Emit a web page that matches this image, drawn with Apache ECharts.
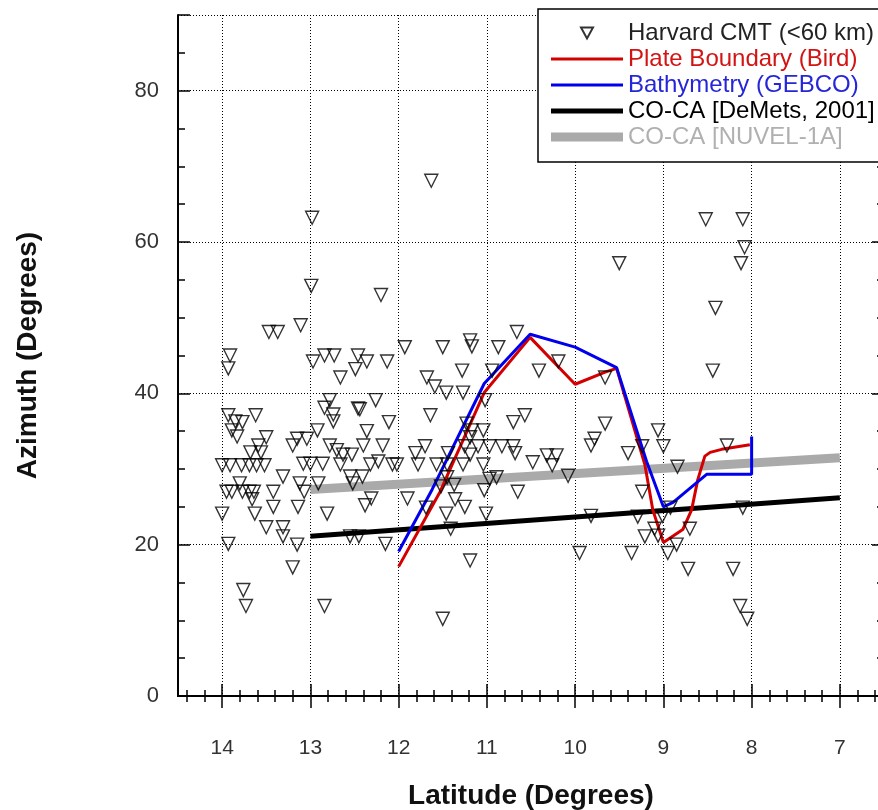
<!DOCTYPE html>
<html>
<head>
<meta charset="utf-8">
<title>Azimuth vs Latitude</title>
<script src="https://cdn.jsdelivr.net/npm/echarts@6/dist/echarts.min.js"></script>
<style>
  html, body { margin: 0; padding: 0; background: #fff; }
  #chart { width: 878px; height: 810px; }
</style>
</head>
<body>
<div id="chart"></div>
<script>
// Harvard CMT events: [latitude, azimuth]
var cmtPoints = [
  [12.98,63.2],[11.63,68.1],[8.52,63.0],[8.10,63.0],[8.08,59.3],[8.12,57.2],[9.50,57.2],[8.41,51.3],
  [8.44,43.0],[10.41,43.0],[10.19,44.2],[9.66,42.1],[10.66,48.1],[12.99,54.2],[12.20,53.0],[13.11,49.0],
  [13.47,48.1],[13.37,48.1],[13.91,45.0],[13.93,43.3],[12.97,44.2],[12.84,45.0],[12.73,45.0],[12.46,45.0],
  [12.36,44.2],[12.49,43.2],[12.13,44.2],[12.66,42.1],[11.93,46.1],[11.50,46.1],[11.19,47.0],[11.17,46.2],
  [10.87,46.1],[11.28,43.0],[10.94,43.0],[11.68,42.1],[11.59,40.9],[11.46,40.1],[11.27,40.1],[11.02,39.1],
  [12.78,39.1],[12.84,38.1],[12.74,37.2],[12.74,36.3],[12.44,37.9],[12.26,39.1],[12.11,36.2],[11.64,37.1],
  [10.57,37.1],[10.70,36.2],[13.93,37.1],[13.85,36.3],[13.77,36.2],[13.62,37.1],[13.89,35.1],[13.83,34.3],
  [12.92,35.1],[12.36,35.0],[13.50,34.2],[13.59,33.1],[13.68,32.2],[13.56,32.2],[13.15,34.0],[13.04,34.0],
  [13.20,33.1],[12.78,33.1],[12.70,32.5],[12.63,31.9],[12.53,31.9],[12.40,33.1],[12.18,33.1],[11.81,32.1],
  [11.70,33.0],[11.44,32.1],[11.25,33.0],[11.10,33.0],[10.97,33.0],[10.83,33.0],[10.70,33.0],[11.17,35.1],
  [11.23,36.0],[11.04,35.1],
  [9.66,36.0],[9.78,34.0],[9.82,33.1],[9.06,35.1],[9.00,33.0],[9.24,33.0],[9.40,32.1],[8.28,33.1],
  [10.48,30.9],[10.32,31.8],[10.21,31.8],[10.26,30.5],[8.84,30.3],[10.08,29.1],[9.24,27.0],[9.82,23.8],
  [9.29,23.7],[9.01,23.8],[8.92,24.9],[8.10,24.9],[9.10,22.1],[9.21,21.1],[9.06,21.2],[8.70,22.1],
  [8.85,20.0],[8.95,18.9],[9.95,18.9],[9.36,18.9],[8.72,16.8],[8.21,16.8],[8.13,11.9],[8.05,10.2],
  [10.68,32.1],[10.65,27.0],
  [14.00,30.5],[13.91,30.5],[13.78,30.5],[13.69,30.5],[13.61,30.5],[13.52,30.5],[13.31,29.0],[13.08,30.7],
  [13.00,30.7],[12.86,30.7],[12.66,30.6],[12.32,30.6],[12.23,31.0],[12.07,30.6],[12.02,30.6],[11.78,30.6],
  [11.57,30.6],[11.45,30.6],[11.27,30.6],[11.04,30.6],[10.97,28.7],[13.80,28.1],[13.95,27.0],[13.89,27.0],
  [13.77,27.0],[13.69,27.0],[13.64,27.0],[13.66,26.0],[13.42,27.0],[13.42,25.0],[13.12,28.1],[13.07,27.0],
  [12.91,28.1],[12.52,28.1],[12.41,29.0],[12.31,26.1],[12.38,25.2],[13.14,25.0],[14.00,24.1],[13.63,24.1],
  [12.81,24.1],[13.50,22.3],[13.31,22.3],[13.31,21.1],[13.15,20.0],[13.93,20.1],[12.55,21.1],[12.45,21.1],
  [12.15,20.1],[13.20,17.0],[13.76,14.0],[13.73,11.9],[12.84,11.9],[11.50,10.2],[11.19,17.9],[11.90,26.1],
  [11.69,24.9],[11.46,24.1],[11.41,22.1],[11.36,26.0],[11.25,25.0],[11.03,27.2],[11.01,24.1],[11.45,28.9],
  [11.37,27.9],[11.52,27.7],[10.89,28.9],[12.46,38.0],[11.19,34.2],[11.19,31.9],[12.55,29.0]
];

// Plate boundary (Bird)
var birdLat = [12.0, 11.53, 11.03, 10.51, 10.0, 9.66, 9.53, 9.21, 9.12, 9.0, 8.78, 8.68, 8.61, 8.53, 8.47, 8.34, 8.02];
var birdAz  = [17.1, 27.0, 40.1, 47.4, 41.2, 42.8, 43.3, 30.6, 24.6, 20.3, 22.0, 24.6, 28.6, 31.7, 32.2, 32.6, 33.2];

// Bathymetry (GEBCO)
var gebcoLat = [12.0, 11.62, 11.03, 10.51, 10.0, 9.53, 9.19, 9.0, 8.89, 8.51, 8.0, 8.0];
var gebcoAz  = [19.1, 27.3, 41.3, 47.8, 46.1, 43.4, 31.0, 25.0, 25.6, 29.3, 29.3, 34.3];

// CO-CA predictions
var demetsLat = [13.0, 7.0];
var demetsAz  = [21.1, 26.2];
var nuvelLat  = [13.0, 7.0];
var nuvelAz   = [27.3, 31.5];

// tick values
var latTicks = [7, 8, 9, 10, 11, 12, 13, 14];
var latMinorTicks = [];
for (var t = 66; t <= 144; t += 2) latMinorTicks.push(t / 10);
var azTicks = [0, 20, 40, 60, 80];

function zip(a, b) {
  return a.map(function (v, i) { return [v, b[i]]; });
}

var FONT = 'Liberation Sans, Arial, sans-serif';
var frame = { show: true, lineStyle: { color: '#000', width: 2 } };
var dotted = { show: true, lineStyle: { color: '#000', width: 1, type: [1, 2] } };

function latAxis(pos, major) {
  return {
    type: 'value', position: pos, min: 6.5, max: 14.5, inverse: true,
    splitNumber: 8, minInterval: 1, maxInterval: 1,
    axisLine: major ? frame : { show: false },
    axisTick: { show: true, inside: true, length: major ? 12 : 6,
      customValues: major ? latTicks : latMinorTicks,
      lineStyle: { color: '#000', width: 1.5 } },
    axisLabel: { show: false },
    splitLine: { show: false }
  };
}
function azAxis(pos, major) {
  return {
    type: 'value', position: pos, min: 0, max: 90, interval: major ? 20 : 5,
    axisLine: major ? frame : { show: false },
    axisTick: { show: true, inside: true, length: major ? 12 : 7,
      lineStyle: { color: '#000', width: 1.5 } },
    axisLabel: { show: false },
    splitLine: { show: false }
  };
}

var xMain = latAxis('bottom', true);
xMain.axisLabel = { show: true, customValues: latTicks, fontSize: 21, color: '#333',
  fontFamily: FONT, margin: 42 };
xMain.splitLine = dotted;
xMain.name = 'Latitude (Degrees)';
xMain.nameLocation = 'middle';
xMain.nameGap = 86;
xMain.nameTextStyle = { fontSize: 28, fontWeight: 'bold', color: '#111', fontFamily: FONT };

var yMain = azAxis('left', true);
yMain.axisLabel = { show: true, customValues: azTicks, fontSize: 22, color: '#333',
  fontFamily: FONT, margin: 19 };
yMain.splitLine = dotted;
yMain.name = 'Azimuth (Degrees)';
yMain.nameLocation = 'middle';
yMain.nameGap = 136;
yMain.nameTextStyle = { fontSize: 28, fontWeight: 'bold', color: '#111', fontFamily: FONT };

var myChart = echarts.init(document.getElementById('chart'));

var option = {
  animation: false,
  backgroundColor: '#fff',
  grid: { left: 178, top: 15, width: 706, height: 681, outerBoundsMode: 'none', containLabel: false },
  xAxis: [xMain, latAxis('bottom', false), latAxis('top', true), latAxis('top', false)],
  yAxis: [yMain, azAxis('left', false), azAxis('right', true), azAxis('right', false)],
  legend: {
    left: 538, top: 9, orient: 'vertical',
    itemWidth: 72, itemHeight: 11, itemGap: 2,
    padding: [12, 30, 13, 13],
    borderColor: '#000', borderWidth: 1.5, backgroundColor: '#fff',
    textStyle: { fontSize: 24, fontFamily: FONT, color: '#222' },
    selectedMode: false,
    data: [
      { name: 'Harvard CMT (<60 km)', icon: 'path://M0,0L12,0L6,11Z', textStyle: { color: '#222' } },
      { name: 'Plate Boundary (Bird)', icon: 'path://M0,0L72,0L72,3L0,3Z', textStyle: { color: '#d21414' } },
      { name: 'Bathymetry (GEBCO)', icon: 'path://M0,0L72,0L72,3L0,3Z', textStyle: { color: '#2626d9' } },
      { name: 'CO-CA [DeMets, 2001]', icon: 'path://M0,0L72,0L72,5L0,5Z', textStyle: { color: '#000' } },
      { name: 'CO-CA [NUVEL-1A]', icon: 'path://M0,0L72,0L72,9L0,9Z', textStyle: { color: '#b0b0b0' } }
    ]
  },
  series: [
    {
      name: 'CO-CA [NUVEL-1A]', type: 'line', data: zip(nuvelLat, nuvelAz),
      symbol: 'none', lineStyle: { color: '#aaaaaa', width: 9 }, itemStyle: { color: '#aaaaaa' }
    },
    {
      name: 'CO-CA [DeMets, 2001]', type: 'line', data: zip(demetsLat, demetsAz),
      symbol: 'none', lineStyle: { color: '#000', width: 5 }, itemStyle: { color: '#000' }
    },
    {
      name: 'Plate Boundary (Bird)', type: 'line', data: zip(birdLat, birdAz),
      symbol: 'none', lineStyle: { color: '#d40000', width: 3 }, itemStyle: { color: '#d40000' }
    },
    {
      name: 'Bathymetry (GEBCO)', type: 'line', data: zip(gebcoLat, gebcoAz),
      symbol: 'none', lineStyle: { color: '#0000ee', width: 3 }, itemStyle: { color: '#0000ee' }
    },
    {
      name: 'Harvard CMT (<60 km)', type: 'scatter', data: cmtPoints,
      symbol: 'triangle', symbolRotate: 180, symbolSize: 13,
      itemStyle: { color: 'rgba(255,255,255,0)', borderColor: '#000', borderWidth: 1.4 },
      z: 3
    }
  ]
};

myChart.setOption(option);
</script>
</body>
</html>
